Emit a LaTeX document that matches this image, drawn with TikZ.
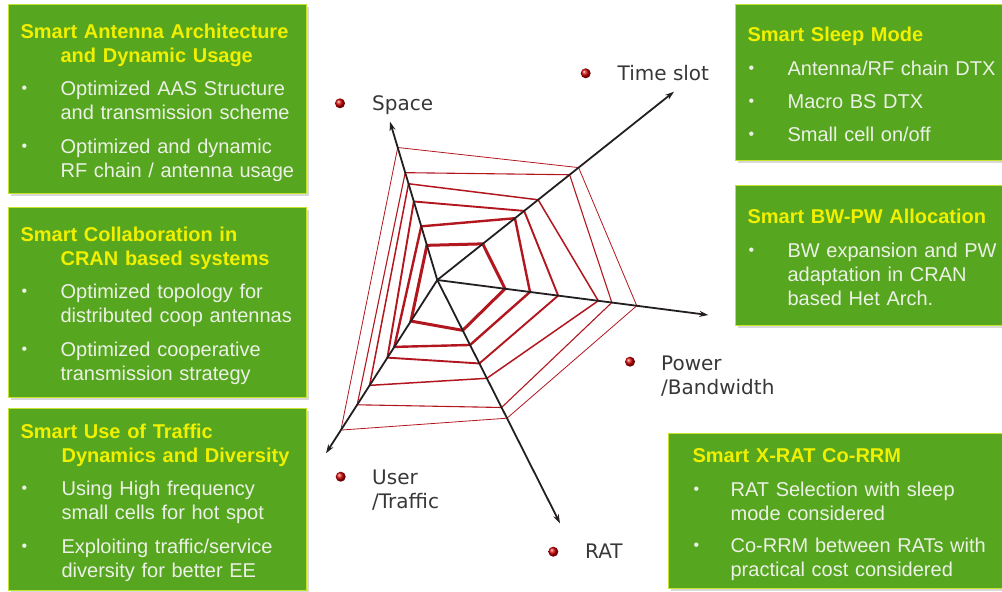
\documentclass[tikz,border=0pt]{standalone}
\usepackage{fontspec}
\setmainfont{Liberation Sans}
\newfontfamily\labelfont{DejaVu Sans}
\usetikzlibrary{arrows.meta,calc,shadows}

\definecolor{boxgreen}{RGB}{86,166,32}
\definecolor{boxrim}{RGB}{196,226,48}
\definecolor{titleyellow}{RGB}{240,240,0}
\definecolor{itemwhite}{RGB}{236,241,230}
\definecolor{webred}{RGB}{178,22,30}
\definecolor{axisgray}{RGB}{35,31,32}
\definecolor{labelgray}{RGB}{55,55,55}

\newcommand{\hd}[1]{\textcolor{titleyellow}{\bfseries #1}}
\newcommand{\itemdot}{\hspace*{1pt}\raisebox{2pt}{\fontsize{16}{16}\selectfont\textbullet}}
\newcommand{\boxtext}[1]{\raisebox{-4pt}[\height][\depth]{#1}}

\tikzset{
  greenbox/.style={draw=boxrim, line width=1.2pt, fill=boxgreen, anchor=north west,
    inner ysep=0pt, align=left, text=itemwhite, font=\fontsize{20}{24}\selectfont,
    drop shadow={shadow xshift=2.5pt, shadow yshift=-2.5pt, fill=black!30}},
  axis/.style={draw=axisgray, line width=1.8pt, -{Stealth[length=9pt,width=6pt]}},
  web/.style={draw=webred, line join=miter},
  reddot/.style={circle, inner sep=0pt, minimum size=10pt, shading=ball, ball color=red!80!black},
  axislabel/.style={anchor=base west, inner sep=0pt, align=left, text=labelgray,
    font=\labelfont\fontsize{20}{24}\selectfont}
}

\begin{document}
\begin{tikzpicture}[x=1pt,y=-1pt]
    \clip (0,0) rectangle (1002,592);

    % Centre of the web and the five axis ends
    \coordinate (c) at (437.3,280);
    \coordinate (sp) at (390,121.7);
    \coordinate (ts) at (674,91.7);
    \coordinate (pw) at (708.3,315);
    \coordinate (rat) at (560,523.3);
    \coordinate (usr) at (326,453.3);

    % The web, thick inside and thin outside
    \foreach \s/\t/\p/\r/\u/\w in {0.219/0.192/0.250/0.207/0.237/3.0,
        0.339/0.328/0.342/0.267/0.386/2.4, 0.496/0.367/0.446/0.343/0.448/1.9,
        0.608/0.426/0.594/0.404/0.608/1.5, 0.678/0.559/0.644/0.524/0.720/1.1,
        0.837/0.597/0.736/0.568/0.866/0.8}
        \draw[web, line width=\w pt] ($(c)!\s!(sp)$) -- ($(c)!\t!(ts)$) -- ($(c)!\p!(pw)$)
            -- ($(c)!\r!(rat)$) -- ($(c)!\u!(usr)$) -- cycle;

    % The axes
    \foreach \e in {sp,ts,pw,rat,usr}
        \draw[axis] (c) -- (\e);

    % Axis labels with red balls
    \node[reddot] (spdot) at (340,103.3) {};
    \node[axislabel] (splabel) at (372,110) {Space};
    \node[reddot] (tsdot) at (585.7,73.3) {};
    \node[axislabel] (tslabel) at (617.5,80) {Time slot};
    \node[reddot] (pwdot) at (630,361.7) {};
    \node[axislabel] (pwlabel) at (661,394) {Power\\/Bandwidth};
    \node[reddot] (usrdot) at (340.7,476.7) {};
    \node[axislabel] (usrlabel) at (372,508) {User\\/Traffic};
    \node[reddot] (ratdot) at (553.3,551.7) {};
    \node[axislabel] (ratlabel) at (585,558) {RAT};

    % Left column of boxes
    \node[greenbox, inner xsep=12pt, text width=274pt, minimum height=189pt] (antenna) at (8,4) {%
      \boxtext{\begin{tabular}{@{}p{40pt}@{}l@{}}
      \multicolumn{2}{@{}l@{}}{\hd{Smart Antenna Architecture}}\\
      & \hd{and Dynamic Usage}\\[9pt]
      \itemdot & Optimized AAS Structure\\
      & and transmission scheme\\[10pt]
      \itemdot & Optimized and dynamic\\
      & RF chain / antenna usage
      \end{tabular}}};
    \node[greenbox, inner xsep=12pt, text width=274pt, minimum height=190pt] (cran) at (8,207) {%
      \boxtext{\begin{tabular}{@{}p{40pt}@{}l@{}}
      \multicolumn{2}{@{}l@{}}{\hd{Smart Collaboration in}}\\
      & \hd{CRAN based systems}\\[9pt]
      \itemdot & Optimized topology for\\
      & distributed coop antennas\\[10pt]
      \itemdot & Optimized cooperative\\
      & transmission strategy
      \end{tabular}}};
    \node[greenbox, inner xsep=12pt, text width=274pt, minimum height=182pt] (traffic) at (8,408) {%
      \boxtext{\begin{tabular}{@{}p{41pt}@{}l@{}}
      \multicolumn{2}{@{}l@{}}{\hd{Smart Use of Traffic}}\\
      & \hd{Dynamics and Diversity}\\[9pt]
      \itemdot & Using High frequency\\
      & small cells for hot spot\\[10pt]
      \itemdot & Exploiting traffic/service\\
      & diversity for better EE
      \end{tabular}}};

    % Right column of boxes
    \node[greenbox, inner xsep=12pt, text width=260pt, minimum height=156pt] (sleep) at (735,4) {%
      \boxtext{\begin{tabular}{@{}p{40pt}@{}l@{}}
      \multicolumn{2}{@{}l@{}}{\hd{Smart Sleep Mode}}\\[10pt]
      \itemdot & Antenna/RF chain DTX\\[9pt]
      \itemdot & Macro BS DTX\\[9pt]
      \itemdot & Small cell on/off
      \end{tabular}}};
    \node[greenbox, inner xsep=12pt, text width=260pt, minimum height=140pt] (bwpw) at (735,185) {%
      \boxtext{\begin{tabular}{@{}p{40pt}@{}l@{}}
      \multicolumn{2}{@{}l@{}}{\hd{Smart BW-PW Allocation}}\\[10pt]
      \itemdot & BW expansion and PW\\
      & adaptation in CRAN\\
      & based Het Arch.
      \end{tabular}}};
    \node[greenbox, inner xsep=24pt, text width=300pt, minimum height=155pt] (xrat) at (668,433) {%
      \boxtext{\begin{tabular}{@{}p{38pt}@{}l@{}}
      \multicolumn{2}{@{}l@{}}{\hd{Smart X-RAT Co-RRM}}\\[10pt]
      \itemdot & RAT Selection  with sleep\\
      & mode considered\\[8pt]
      \itemdot & Co-RRM between RATs with\\
      & practical cost considered
      \end{tabular}}};
\end{tikzpicture}
\end{document}
